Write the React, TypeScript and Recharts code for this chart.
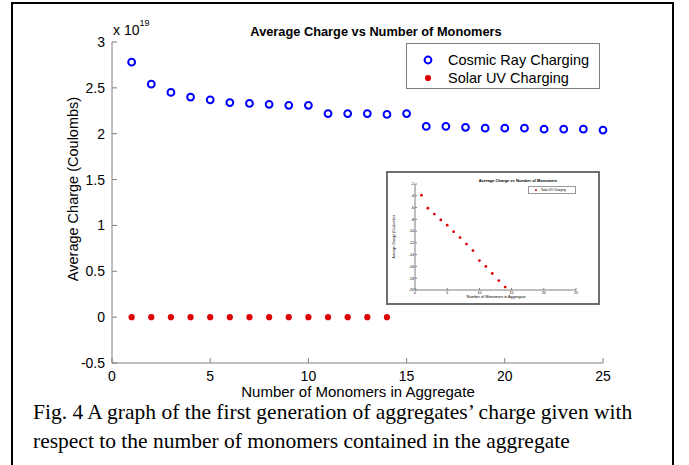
import React from 'react';
import { Legend, Scatter, ScatterChart, XAxis, YAxis } from 'recharts';

// number of monomers in the aggregate
const monomers = [1, 2, 3, 4, 5, 6, 7, 8, 9, 10, 11, 12, 13, 14, 15, 16, 17, 18, 19, 20, 21, 22, 23, 24, 25];
// average charge, units of 1e19 C
const cosmicRay = [2.78, 2.54, 2.45, 2.40, 2.37, 2.34, 2.33, 2.32, 2.31, 2.31, 2.22, 2.22, 2.22, 2.21, 2.22, 2.08, 2.08, 2.07, 2.06, 2.06, 2.06, 2.05, 2.05, 2.05, 2.04];
const solarUV = [0, 0, 0, 0, 0, 0, 0, 0, 0, 0, 0, 0, 0, 0];
// inset: solar UV charge on its own scale
const insetSolarUV = [-3.9, -6.1, -7.1, -8.1, -9.0, -10.1, -11.1, -12.2, -13.3, -15.0, -16.0, -17.2, -18.4, -19.5];

const xTicks = [0, 5, 10, 15, 20, 25];
const yTicks = [-0.5, 0, 0.5, 1, 1.5, 2, 2.5, 3];
const insetYTicks = [-20, -18, -16, -14, -12, -10, -8, -6, -4, -2];

const cosmicData = monomers.map((n, i) => ({ n, q: cosmicRay[i] }));
const solarData = solarUV.map((q, i) => ({ n: monomers[i], q }));
const insetData = insetSolarUV.map((q, i) => ({ n: monomers[i], q }));

const SANS = '"Liberation Sans", Arial, sans-serif';
const AXIS = '#7f7f7f';
const BLUE = '#0000ff';
const RED = '#dd0000';

const OpenCircle = (p: any) => <circle cx={p.cx} cy={p.cy} r={3.4} fill="none" stroke={BLUE} strokeWidth={2} />;
const Dot = (p: any) => <circle cx={p.cx} cy={p.cy} r={3.1} fill={RED} />;
const SmallDot = (p: any) => <circle cx={p.cx} cy={p.cy} r={1.4} fill={RED} />;

function MainLegend() {
  return (
    <div style={{ position: 'relative', width: 192, height: 44, border: `1px solid ${AXIS}`, background: '#fff', fontFamily: SANS, fontSize: 14.5, color: '#000' }}>
      {[
        { name: 'Cosmic Ray Charging', mark: <circle cx={7} cy={7} r={3.4} fill="none" stroke={BLUE} strokeWidth={2} /> },
        { name: 'Solar UV Charging', mark: <circle cx={7} cy={7} r={3.1} fill={RED} /> },
      ].map((e, i) => (
        <div key={e.name} style={{ position: 'absolute', left: 14, top: 9 + i * 18, height: 14, display: 'flex', alignItems: 'center' }}>
          <svg width={14} height={14}>{e.mark}</svg>
          <span style={{ marginLeft: 13, lineHeight: '14px' }}>{e.name}</span>
        </div>
      ))}
    </div>
  );
}

function Inset() {
  const tickStyle = { fontSize: 3.6, fill: '#000', fontFamily: SANS };
  return (
    <div style={{ position: 'absolute', left: 386, top: 171, width: 210, height: 130, border: '2px solid #6e6e6e', background: '#fff' }}>
      <ScatterChart width={210} height={130} margin={{ top: 11, right: 22, bottom: 3, left: 17 }}>
        <XAxis type="number" dataKey="n" domain={[0, 25]} ticks={xTicks} height={10} tickSize={-2} tickMargin={3}
          stroke={AXIS} tick={tickStyle} />
        <XAxis xAxisId="top" type="number" orientation="top" domain={[0, 25]} ticks={xTicks} height={0} tickSize={-2}
          stroke={AXIS} tick={false} />
        <YAxis type="number" dataKey="q" domain={[-20, -2]} ticks={insetYTicks} width={10} tickSize={-2} tickMargin={3}
          stroke={AXIS} tick={tickStyle} />
        <YAxis yAxisId="right" type="number" orientation="right" domain={[-20, -2]} ticks={insetYTicks} width={0} tickSize={-2}
          stroke={AXIS} tick={false} />
        <Scatter data={insetData} shape={SmallDot} isAnimationActive={false} />
      </ScatterChart>
      <div style={{ position: 'absolute', left: 60, top: 6, width: 140, textAlign: 'center', fontFamily: SANS, fontSize: 4, fontWeight: 'bold', lineHeight: '4px' }}>
        Average Charge vs Number of Monomers
      </div>
      <div style={{ position: 'absolute', left: 140, top: 13, width: 46, height: 6, border: '0.5px solid #999', background: '#fff', fontFamily: SANS, fontSize: 3, lineHeight: '6px' }}>
        <span style={{ position: 'absolute', left: 6, top: 2, width: 2, height: 2, borderRadius: 1, background: RED }} />
        <span style={{ position: 'absolute', left: 12 }}>Solar UV Charging</span>
      </div>
      <div style={{ position: 'absolute', left: 60, top: 122, width: 96, textAlign: 'center', fontFamily: SANS, fontSize: 3.8, lineHeight: '4px' }}>
        Number of Monomers in Aggregate
      </div>
      <div style={{ position: 'absolute', left: -24, top: 62, width: 60, textAlign: 'center', fontFamily: SANS, fontSize: 3.4, lineHeight: '4px', transform: 'rotate(-90deg)' }}>
        Average Charge (Coulombs)
      </div>
    </div>
  );
}

export default function App() {
  const tickStyle = { fontSize: 14, fill: '#000', fontFamily: SANS };
  return (
    <div style={{ position: 'absolute', left: 0, top: 0, width: 689, height: 465, background: '#fff', overflow: 'hidden' }}>
      <div style={{ position: 'absolute', left: 11, top: 2, width: 659, height: 480, border: '2px solid #000' }} />
      <ScatterChart width={689} height={465} margin={{ top: 42, right: 86, bottom: 72, left: 62 }}>
        <XAxis type="number" dataKey="n" domain={[0, 25]} ticks={xTicks} height={30} tickSize={-5} tickMargin={13}
          stroke={AXIS} tick={tickStyle} />
        <XAxis xAxisId="top" type="number" orientation="top" domain={[0, 25]} ticks={xTicks} height={0} tickSize={-5}
          stroke={AXIS} tick={false} />
        <YAxis type="number" dataKey="q" domain={[-0.5, 3]} ticks={yTicks} width={50} tickSize={-5} tickMargin={12}
          stroke={AXIS} tick={tickStyle} />
        <YAxis yAxisId="right" type="number" orientation="right" domain={[-0.5, 3]} ticks={yTicks} width={0} tickSize={-5}
          stroke={AXIS} tick={false} />
        <Scatter name="Cosmic Ray Charging" data={cosmicData} shape={OpenCircle} isAnimationActive={false} />
        <Scatter name="Solar UV Charging" data={solarData} shape={Dot} isAnimationActive={false} />
        <Legend content={() => <MainLegend />} layout="horizontal" verticalAlign="middle" align="center"
          wrapperStyle={{ position: 'absolute', left: 406, top: 43, width: 194, height: 46 }} />
      </ScatterChart>
      <div style={{ position: 'absolute', left: 113, top: 22, fontFamily: SANS, fontSize: 14, color: '#000' }}>
        x 10<sup style={{ fontSize: 9, verticalAlign: 'top', position: 'relative', top: -4 }}>19</sup>
      </div>
      <div style={{ position: 'absolute', left: 226, top: 24, width: 300, textAlign: 'center', fontFamily: SANS, fontSize: 12.8, fontWeight: 'bold', color: '#000' }}>
        Average Charge vs Number of Monomers
      </div>
      <div style={{ position: 'absolute', left: 208, top: 383, width: 300, textAlign: 'center', fontFamily: SANS, fontSize: 15, color: '#000' }}>
        Number of Monomers in Aggregate
      </div>
      <div style={{ position: 'absolute', left: -27, top: 181, width: 200, textAlign: 'center', fontFamily: SANS, fontSize: 14.5, color: '#000', transform: 'rotate(-90deg)' }}>
        Average Charge (Coulombs)
      </div>
      <Inset />
      <div style={{ position: 'absolute', left: 33, top: 398, fontFamily: '"Liberation Serif", "Times New Roman", serif', fontSize: 21.5, lineHeight: '29px', color: '#000', whiteSpace: 'nowrap' }}>
        Fig. 4 A graph of the first generation of aggregates’ charge given with<br />
        respect to the number of monomers contained in the aggregate
      </div>
    </div>
  );
}
